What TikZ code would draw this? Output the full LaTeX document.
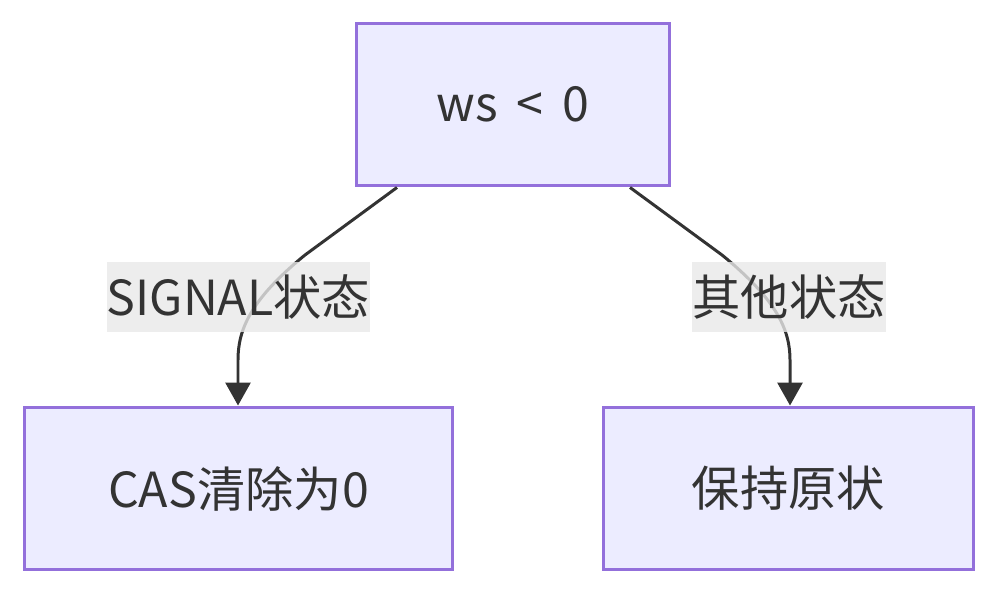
\documentclass[tikz,border=0pt]{standalone}
\usepackage{fontspec}
\setmainfont{Noto Sans CJK SC}
\newfontfamily\cjk{Noto Sans CJK SC}
\usetikzlibrary{arrows.meta,calc}

\definecolor{boxfill}{HTML}{ECECFF}
\definecolor{boxline}{HTML}{9370DB}
\definecolor{edgeline}{HTML}{333333}
\definecolor{labelbg}{HTML}{E8E8E8}

\tikzset{
  statebox/.style={draw=boxline, fill=boxfill, line width=1.7pt, minimum height=3.26cm,
    text=edgeline, font=\fontsize{27.5}{32}\selectfont, inner sep=0pt},
  edgelabel/.style={fill=labelbg, fill opacity=0.8, text opacity=1, text=edgeline,
    minimum height=1.4cm, inner sep=0pt, font=\fontsize{27.5}{32}\selectfont},
  flow/.style={draw=edgeline, line width=1.7pt, -{Triangle[width=0.5cm,length=0.46cm]}}
}

\begin{document}
\begin{tikzpicture}[x=0.02cm, y=-0.02cm]
  \useasboundingbox (0,0) rectangle (999,594);

  % Condition box
  \node[statebox, minimum width=6.28cm] (cond) at (513,104.5) {ws \,<\, 0};

  % Result boxes
  \node[statebox, minimum width=8.58cm] (clear) at (238.5,488.5) {CAS{\cjk 清除为}0};
  \node[statebox, minimum width=7.42cm] (keep) at (788.5,488.5) {\cjk 保持原状};

  % Edges
  \draw[flow] ($(cond.south)+(-116,0)$) -- (305,255)
    .. controls (250,300) and (238,330) .. (238,360) -- (clear.north -| 238,0);
  \draw[flow] ($(cond.south)+(117,0)$) -- (722,255)
    .. controls (777,300) and (790,330) .. (790,360) -- (keep.north -| 790,0);

  % Edge labels
  \node[edgelabel, minimum width=4.94cm] (signal) at (238.5,297) {SIGNAL{\cjk 状态}};
  \node[edgelabel, minimum width=3.8cm] (other) at (789,297) {\cjk 其他状态};
\end{tikzpicture}
\end{document}
